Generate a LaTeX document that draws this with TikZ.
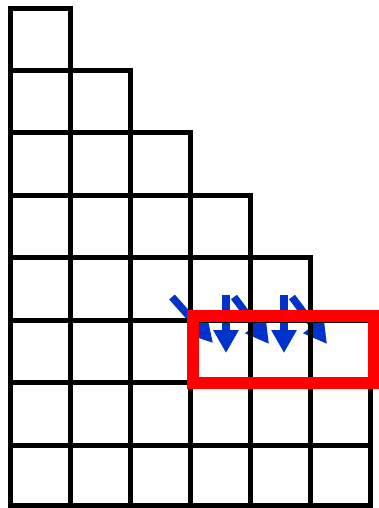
\documentclass[tikz,border=0pt]{standalone}
\usetikzlibrary{arrows.meta}
\definecolor{arrowblue}{RGB}{0,51,204}
\definecolor{boxred}{RGB}{255,0,0}
\begin{document}
\begin{tikzpicture}[x=1pt,y=-1pt,
  cell/.style={draw=black,line width=5pt,line join=miter},
  hilite/.style={draw=boxred,line width=12.5pt,line join=miter},
  movearrow/.style={draw=arrowblue,line width=7.5pt,
    -{Triangle[width=24pt,length=23pt]}}]
\useasboundingbox (0,0) rectangle (379,508);
% arrows (drawn below the grid)
\coordinate (a1s) at (172,297); \coordinate (a1e) at (213,343);
\coordinate (v1s) at (226,295); \coordinate (v1e) at (226,353);
\coordinate (a2s) at (234,297); \coordinate (a2e) at (269,344);
\coordinate (v2s) at (284,295); \coordinate (v2e) at (284,353);
\coordinate (a3s) at (292,297); \coordinate (a3e) at (327,344);
\draw[movearrow] (a1s) -- (a1e);
\draw[movearrow] (v1s) -- (v1e);
\draw[movearrow] (a2s) -- (a2e);
\draw[movearrow] (v2s) -- (v2e);
\draw[movearrow] (a3s) -- (a3e);
% staircase grid
\def\colx{{10,70,130,190,250,310,370}}
\def\rowy{{9,70.5,132.5,195,257.5,320,382.5,445,505.5}}
\foreach \r in {1,...,8}{
  \pgfmathtruncatemacro{\nc}{min(\r,6)}
  \foreach \c in {1,...,\nc}{
    \pgfmathsetmacro{\xa}{\colx[\c-1]}
    \pgfmathsetmacro{\xb}{\colx[\c]}
    \pgfmathsetmacro{\ya}{\rowy[\r-1]}
    \pgfmathsetmacro{\yb}{\rowy[\r]}
    \draw[cell] (\xa,\ya) rectangle (\xb,\yb);
  }
}
% highlight box
\draw[hilite] (193,316) rectangle (374,383);
\end{tikzpicture}
\end{document}
